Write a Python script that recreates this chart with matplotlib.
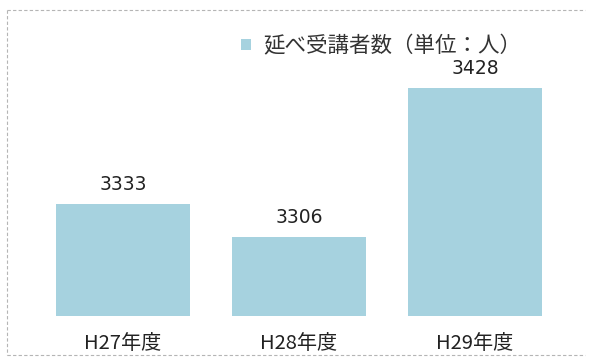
import matplotlib
matplotlib.use("Agg")
import matplotlib.pyplot as plt
from matplotlib.lines import Line2D

# Data
categories = ["H27年度", "H28年度", "H29年度"]
values = [3333, 3306, 3428]
series_name = "延べ受講者数（単位：人）"

bar_color = "#a6d2df"
cjk = ["Noto Sans CJK JP", "DejaVu Sans"]

W, H = 589, 360
fig = plt.figure(figsize=(W / 100, H / 100), dpi=100)
fig.patch.set_facecolor("white")

# axes placed in pixel terms: bars sit on a baseline at y=316px
ax_left, ax_right = 17.4, 580.6
ax_top, ax_bottom = 20, 316
ax = fig.add_axes([ax_left / W, (H - ax_bottom) / H,
                   (ax_right - ax_left) / W, (ax_bottom - ax_top) / H])

x = list(range(len(categories)))
bars = ax.bar(x, values, width=0.76, color=bar_color, label=series_name,
              edgecolor="none", zorder=2)

ax.set_xlim(-0.6, 2.6)
ax.set_ylim(3241, 3484)
ax.set_xticks(x)
ax.set_xticklabels(categories, family=cjk, fontsize=14.5, color="#222222")
ax.tick_params(axis="x", length=0, pad=12)
ax.set_yticks([])
for s in ax.spines.values():
    s.set_visible(False)

for xi, v in zip(x, values):
    ax.annotate(f"{v}", (xi, v), xytext=(0, 7), textcoords="offset points",
                ha="center", va="bottom", fontsize=13.5, color="#222222",
                family=["DejaVu Sans"])

leg = ax.legend(loc="center left", bbox_to_anchor=(241 / W, 1 - 46 / H),
                bbox_transform=fig.transFigure, frameon=False,
                handlelength=0.45, handleheight=0.45, handletextpad=0.6,
                borderaxespad=0, borderpad=0,
                prop={"family": cjk, "size": 15.5})
for t in leg.get_texts():
    t.set_color("#333333")

# dotted outer frame
frame_kw = dict(color="#b5b5b5", lw=0.8, linestyle=(0, (3, 2)),
                transform=fig.transFigure)
fig.add_artist(Line2D([7 / W, 585 / W], [1 - 10 / H, 1 - 10 / H], **frame_kw))
fig.add_artist(Line2D([7 / W, 7 / W], [1 - 10 / H, 1 - 355 / H], **frame_kw))
fig.add_artist(Line2D([7 / W, 585 / W], [1 - 355 / H, 1 - 355 / H], **frame_kw))

fig.savefig("out.png", dpi=100)
